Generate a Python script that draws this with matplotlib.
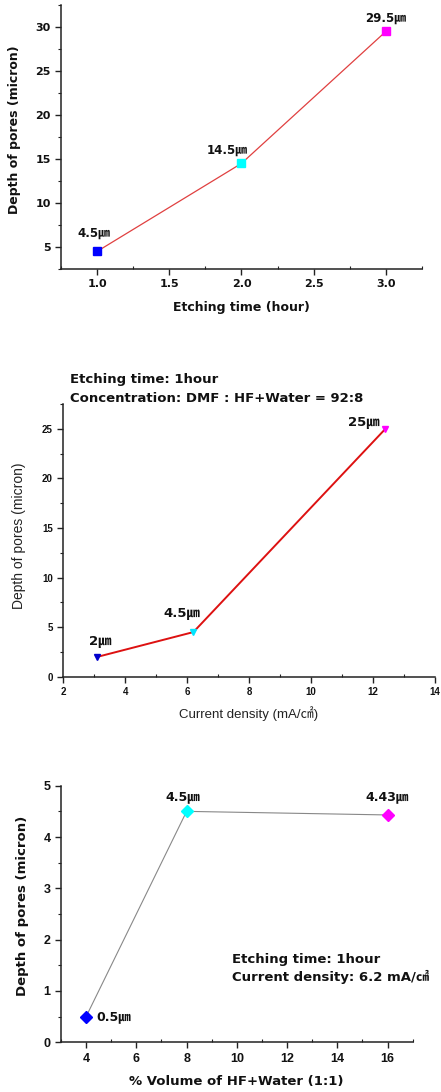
import matplotlib
matplotlib.use("Agg")
import matplotlib.pyplot as plt
from matplotlib.ticker import MultipleLocator

W, H = 441, 1092
VER = ['DejaVu Sans', 'Noto Sans CJK SC']
ARI = ['Liberation Sans', 'Noto Sans CJK SC']

# Panel 1: etching time
time_h = [1.0, 2.0, 3.0]
depth_time = [4.5, 14.5, 29.5]
labels_time = ['4.5㎛', '14.5㎛', '29.5㎛']
colors_time = ['#0000ff', '#00ffff', '#ff00ff']

# Panel 2: current density
current = [3.1, 6.2, 12.4]
depth_current = [2.0, 4.5, 25.0]
labels_current = ['2㎛', '4.5㎛', '25㎛']
colors_current = ['#0000cc', '#00e5ff', '#ff00ff']

# Panel 3: HF+Water volume
volume = [4, 8, 16]
depth_volume = [0.5, 4.5, 4.43]
labels_volume = ['0.5㎛', '4.5㎛', '4.43㎛']
colors_volume = ['#0000ff', '#00ffff', '#ff00ff']

fig = plt.figure(figsize=(W / 100, H / 100), dpi=100)


def ax_px(left, top, right, bottom):
    return fig.add_axes([left / W, 1 - bottom / H, (right - left) / W, (bottom - top) / H])


def style(ax, fam, size):
    for s in ['top', 'right']:
        ax.spines[s].set_visible(False)
    for s in ['left', 'bottom']:
        ax.spines[s].set_linewidth(1.1)
        ax.spines[s].set_color('#222222')
    ax.tick_params(axis='y', which='major', direction='out', length=4, width=1, colors='#222222')
    ax.tick_params(axis='y', which='minor', direction='out', length=2.5, width=0.8, colors='#222222')
    ax.tick_params(axis='x', which='major', direction='out', length=4, width=1, colors='#222222')
    ax.tick_params(axis='x', which='minor', direction='in', length=2.5, width=0.8, colors='#222222')
    for lab in ax.get_xticklabels() + ax.get_yticklabels():
        lab.set_family(fam)
        lab.set_fontweight('bold')
        lab.set_fontsize(size)
        lab.set_color('#111111')


# ---------- Panel 1 ----------
ax1 = ax_px(61, 5, 422, 269)
ax1.plot(time_h, depth_time, color='#e04040', lw=0.9, zorder=2)
for x, y, c in zip(time_h, depth_time, colors_time):
    ax1.plot([x], [y], marker='s', ms=6, color=c, mec=c, zorder=3)
offs1 = [(-3, 18), (-14, 13), (0, 13)]
for x, y, t, o in zip(time_h, depth_time, labels_time, offs1):
    ax1.annotate(t, (x, y), xytext=o, textcoords='offset pixels', ha='center', va='center',
                 fontsize=8.5, fontweight='bold', family=VER, color='#111111')
ax1.set_xlim(0.75, 3.25)
ax1.set_ylim(2.5, 32.5)
ax1.xaxis.set_major_locator(MultipleLocator(0.5))
ax1.xaxis.set_minor_locator(MultipleLocator(0.25))
ax1.yaxis.set_major_locator(MultipleLocator(5))
ax1.yaxis.set_minor_locator(MultipleLocator(2.5))
ax1.set_yticks([5, 10, 15, 20, 25, 30])
ax1.set_xticks([1.0, 1.5, 2.0, 2.5, 3.0])
style(ax1, VER, 8)
fig.text(241 / W, 1 - 307 / H, 'Etching time (hour)', ha='center', va='center',
         fontsize=9, fontweight='bold', family=VER, color='#111111')
fig.text(15 / W, 1 - 130 / H, 'Depth of pores (micron)', ha='center', va='center', rotation=90,
         fontsize=9, fontweight='bold', family=VER, color='#111111')

# ---------- Panel 2 ----------
ax2 = ax_px(63.3, 404, 435, 676.7)
ax2.plot(current, depth_current, color='#dd1111', lw=1.4, zorder=2)
for x, y, c in zip(current, depth_current, colors_current):
    ax2.plot([x], [y], marker='v', ms=4.5, color=c, mec=c, zorder=3)
offs2 = [(3, 15), (-12, 19), (-22, 6)]
for x, y, t, o in zip(current, depth_current, labels_current, offs2):
    ax2.annotate(t, (x, y), xytext=o, textcoords='offset pixels', ha='center', va='center',
                 fontsize=9.5, fontweight='bold', family=VER, color='#111111')
ax2.set_xlim(2, 14)
ax2.set_ylim(0, 27.5)
ax2.xaxis.set_major_locator(MultipleLocator(2))
ax2.xaxis.set_minor_locator(MultipleLocator(1))
ax2.yaxis.set_major_locator(MultipleLocator(5))
ax2.yaxis.set_minor_locator(MultipleLocator(2.5))
ax2.set_yticks([0, 5, 10, 15, 20, 25])
style(ax2, ARI, 7)
fig.text(70 / W, 1 - 380 / H, 'Etching time: 1hour', ha='left', va='center',
         fontsize=9.5, fontweight='bold', family=VER, color='#111111')
fig.text(70 / W, 1 - 399 / H, 'Concentration: DMF : HF+Water = 92:8', ha='left', va='center',
         fontsize=9.5, fontweight='bold', family=VER, color='#111111')
fig.text(249 / W, 1 - 714 / H, 'Current density (mA/㎠)', ha='center', va='center',
         fontsize=9.5, family=ARI, color='#222222')
fig.text(19 / W, 1 - 536 / H, 'Depth of pores (micron)', ha='center', va='center', rotation=90,
         fontsize=10, family=ARI, color='#222222')

# ---------- Panel 3 ----------
ax3 = ax_px(61, 785.7, 412.7, 1042.3)
ax3.plot(volume, depth_volume, color='#888888', lw=0.8, zorder=2)
for x, y, c in zip(volume, depth_volume, colors_volume):
    ax3.plot([x], [y], marker='D', ms=6, color=c, mec=c, zorder=3)
offs3 = [(10, 0), (-4, 15), (0, 18)]
has3 = ['left', 'center', 'center']
for x, y, t, o, h in zip(volume, depth_volume, labels_volume, offs3, has3):
    ax3.annotate(t, (x, y), xytext=o, textcoords='offset pixels', ha=h, va='center',
                 fontsize=9, fontweight='bold', family=VER, color='#111111')
ax3.set_xlim(3, 17)
ax3.set_ylim(0, 5)
ax3.set_xticks([4, 6, 8, 10, 12, 14, 16])
ax3.xaxis.set_minor_locator(MultipleLocator(1))
ax3.yaxis.set_major_locator(MultipleLocator(1))
ax3.yaxis.set_minor_locator(MultipleLocator(0.5))
style(ax3, ARI, 9)
fig.text(232 / W, 1 - 959 / H, 'Etching time: 1hour', ha='left', va='center',
         fontsize=9.5, fontweight='bold', family=VER, color='#111111')
fig.text(232 / W, 1 - 977 / H, 'Current density: 6.2 mA/㎠', ha='left', va='center',
         fontsize=9.5, fontweight='bold', family=VER, color='#111111')
fig.text(236 / W, 1 - 1081 / H, '% Volume of HF+Water (1:1)', ha='center', va='center',
         fontsize=9.5, fontweight='bold', family=VER, color='#111111')
fig.text(23 / W, 1 - 906 / H, 'Depth of pores (micron)', ha='center', va='center', rotation=90,
         fontsize=9.5, fontweight='bold', family=VER, color='#111111')

fig.savefig('out.png', dpi=100)
